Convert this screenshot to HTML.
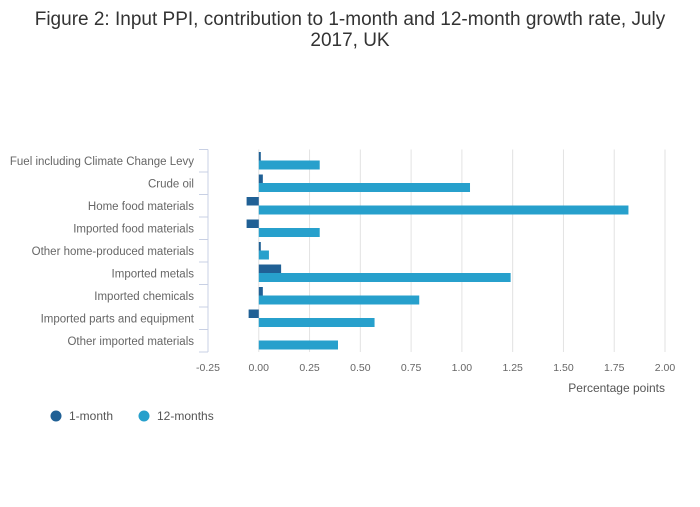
<!DOCTYPE html>
<html><head><meta charset="utf-8"><style>
body{margin:0;background:#fff;font-family:"Liberation Sans",sans-serif;}
svg text{font-family:"Liberation Sans",sans-serif;}
</style></head><body>
<svg width="700" height="502" id="c">
<text x="350" y="25" text-anchor="middle" font-size="19" fill="#333">Figure 2: Input PPI, contribution to 1-month and 12-month growth rate, July</text>
<text x="350" y="46" text-anchor="middle" font-size="19" fill="#333">2017, UK</text>
<text x="665" y="392" text-anchor="end" font-size="12" fill="#555">Percentage points</text>
<g>
<circle cx="56" cy="416" r="5.5" fill="#206095"/>
<text x="69" y="420" font-size="12" fill="#555">1-month</text>
<circle cx="144" cy="416" r="5.5" fill="#27a0cc"/>
<text x="157" y="420" font-size="12" fill="#555">12-months</text>
</g>
</svg>
<script>
const categories=["Fuel including Climate Change Levy","Crude oil","Home food materials","Imported food materials","Other home-produced materials","Imported metals","Imported chemicals","Imported parts and equipment","Other imported materials"];
const oneMonth=[0.01,0.02,-0.06,-0.06,0.01,0.11,0.02,-0.05,0];
const twelveMonths=[0.30,1.04,1.82,0.30,0.05,1.24,0.79,0.57,0.39];
const ticks=[-0.25,0,0.25,0.5,0.75,1,1.25,1.5,1.75,2];
const tickLabels=["-0.25","0.00","0.25","0.50","0.75","1.00","1.25","1.50","1.75","2.00"];
const svg=document.getElementById('c');const NS='http://www.w3.org/2000/svg';
const x0=208,x1=665,yTop=149.5,yBot=352,rowH=(yBot-yTop)/categories.length;
const X=v=>x0+(v-ticks[0])/(ticks[ticks.length-1]-ticks[0])*(x1-x0);
function mk(t,a){const e=document.createElementNS(NS,t);for(const k in a)e.setAttribute(k,a[k]);svg.appendChild(e);return e;}
ticks.forEach((t,i)=>{
 if(i>0){const g=mk('line',{x1:X(t),x2:X(t),y1:yTop,y2:yBot,stroke:'#e2e2e2','stroke-width':1});
 
 }
 const l=mk('text',{x:X(t),y:371,'text-anchor':'middle','font-size':10.5,fill:'#666'});l.textContent=tickLabels[i];
 
 
});
const ax=mk('line',{x1:x0,x2:x0,y1:yTop,y2:yBot,stroke:'#c8d0e4','stroke-width':1});


for(let i=0;i<=categories.length;i++){const y=yTop+i*rowH;const tk=mk('line',{x1:199,x2:x0,y1:y,y2:y,stroke:'#c8d0e4','stroke-width':1});
 
 }
categories.forEach((c,i)=>{
 const y=yTop+i*rowH;
 const t=mk('text',{x:194,y:y+rowH/2+4,'text-anchor':'end','font-size':11.5,fill:'#666'});t.textContent=c;
 
 
 const a=oneMonth[i],b=twelveMonths[i];
 if(a!==0){const r=mk('rect',{x:Math.min(X(0),X(a)),y:y+2.5,width:Math.abs(X(a)-X(0)),height:8.5,fill:'#206095'});
 
 }
 const r2=mk('rect',{x:Math.min(X(0),X(b)),y:y+11,width:Math.abs(X(b)-X(0)),height:9,fill:'#27a0cc'});
 
 
});
</script>
</body></html>
